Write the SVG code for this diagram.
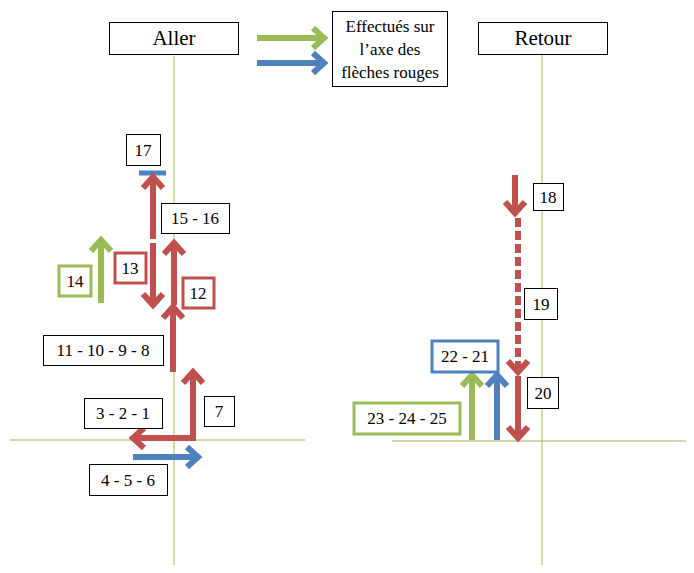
<svg xmlns="http://www.w3.org/2000/svg" width="694" height="573" viewBox="0 0 694 573" font-family="Liberation Serif, Times New Roman, DejaVu Serif, serif">
<style>
.axis{stroke:#9bbb59;stroke-width:1;fill:none}
.box{fill:#fff;stroke:#000;stroke-width:1}
.rbox{fill:#fff;stroke:#c0504d;stroke-width:3}
.gbox{fill:#fff;stroke:#9bbb59;stroke-width:3}
.bbox{fill:#fff;stroke:#4f81bd;stroke-width:3}
text{font-size:17px;fill:#000;text-anchor:middle}
.big{font-size:21px}
.r{stroke:#c0504d;stroke-width:6;fill:none;marker-end:url(#mr)}
.g{stroke:#9bbb59;stroke-width:6;fill:none;marker-end:url(#mg)}
.b{stroke:#4f81bd;stroke-width:6;fill:none;marker-end:url(#mb)}
</style>
<defs>
<marker id="mr" markerUnits="userSpaceOnUse" viewBox="-20 -15 26 30" refX="0" refY="0" markerWidth="26" markerHeight="30" orient="auto"><path d="M-12,-10 L-1,0 L-12,10" fill="none" stroke="#c0504d" stroke-width="6"/></marker>
<marker id="mg" markerUnits="userSpaceOnUse" viewBox="-20 -15 26 30" refX="0" refY="0" markerWidth="26" markerHeight="30" orient="auto"><path d="M-12,-10 L-1,0 L-12,10" fill="none" stroke="#9bbb59" stroke-width="6"/></marker>
<marker id="mb" markerUnits="userSpaceOnUse" viewBox="-20 -15 26 30" refX="0" refY="0" markerWidth="26" markerHeight="30" orient="auto"><path d="M-12,-10 L-1,0 L-12,10" fill="none" stroke="#4f81bd" stroke-width="6"/></marker>
</defs>
<rect width="694" height="573" fill="#fff"/>
<g id="axes">
<line class="axis" x1="174" y1="56" x2="174" y2="565"/>
<line class="axis" x1="10" y1="440" x2="305" y2="440"/>
<line class="axis" x1="542" y1="55" x2="542" y2="565"/>
<line class="axis" x1="392" y1="441" x2="686" y2="441"/>
</g>
<g id="connectors">
<line class="g" x1="257" y1="38" x2="325" y2="38"/>
<line class="b" x1="257" y1="63" x2="325" y2="63"/>
<line x1="139" y1="173" x2="166" y2="173" stroke="#4f81bd" stroke-width="5"/>
<line class="r" x1="153" y1="239" x2="153" y2="176"/>
<line class="r" x1="153" y1="243" x2="153" y2="306"/>
<line class="r" x1="174" y1="305" x2="174" y2="242"/>
<line class="g" x1="101" y1="303" x2="101" y2="239"/>
<line class="r" x1="173" y1="372" x2="173" y2="306"/>
<line class="r" x1="193" y1="441" x2="193" y2="371"/>
<line class="r" x1="196" y1="438" x2="132" y2="438"/>
<line class="b" x1="133" y1="457" x2="199" y2="457"/>
<line class="r" x1="515" y1="175" x2="515" y2="214"/>
<line class="r" x1="518" y1="218" x2="518" y2="373" stroke-dasharray="9 4"/>
<line class="r" x1="518" y1="376" x2="518" y2="439"/>
<line class="g" x1="472" y1="440" x2="472" y2="374"/>
<line class="b" x1="497" y1="440" x2="497" y2="374"/>
</g>
<g id="aller"><rect class="box" x="109.5" y="22.5" width="129" height="32"/><text class="big" x="174" y="45">Aller</text></g>
<g id="retour"><rect class="box" x="478.5" y="22.5" width="129" height="32"/><text class="big" x="543" y="45">Retour</text></g>
<g id="effectues"><rect class="box" x="332.5" y="11.5" width="115" height="75"/><text x="390" y="32">Effectués sur</text><text x="390" y="55">l’axe des</text><text x="390" y="78">flèches rouges</text></g>
<g id="n17"><rect class="box" x="126.5" y="134.5" width="34" height="31"/><text x="143" y="156">17</text></g>
<g id="n15-16"><rect class="box" x="161.5" y="203.5" width="68" height="30"/><text x="195" y="224">15 - 16</text></g>
<g id="n13"><rect class="rbox" x="115" y="253" width="31" height="30"/><text x="130" y="274">13</text></g>
<g id="n14"><rect class="gbox" x="59" y="266" width="32" height="30"/><text x="75" y="287">14</text></g>
<g id="n12"><rect class="rbox" x="183" y="278" width="31" height="30"/><text x="198" y="299">12</text></g>
<g id="n11-8"><rect class="box" x="43.5" y="335.5" width="120" height="30"/><text x="103" y="356">11 - 10 - 9 - 8</text></g>
<g id="n7"><rect class="box" x="204.5" y="396.5" width="30" height="30"/><text x="219" y="417">7</text></g>
<g id="n3-1"><rect class="box" x="84.5" y="398.5" width="78" height="30"/><text x="123" y="419">3 - 2 - 1</text></g>
<g id="n4-6"><rect class="box" x="89.5" y="464.5" width="78" height="31"/><text x="128" y="486">4 - 5 - 6</text></g>
<g id="n18"><rect class="box" x="533.5" y="183.5" width="30" height="27"/><text x="548" y="203">18</text></g>
<g id="n19"><rect class="box" x="524.5" y="288.5" width="33" height="31"/><text x="541" y="310">19</text></g>
<g id="n20"><rect class="box" x="527.5" y="377.5" width="31" height="31"/><text x="543" y="399">20</text></g>
<g id="n22-21"><rect class="bbox" x="432" y="341" width="66" height="31"/><text x="465" y="362">22 - 21</text></g>
<g id="n23-25"><rect class="gbox" x="354" y="403" width="106" height="31"/><text x="407" y="424">23 - 24 - 25</text></g>
</svg>
